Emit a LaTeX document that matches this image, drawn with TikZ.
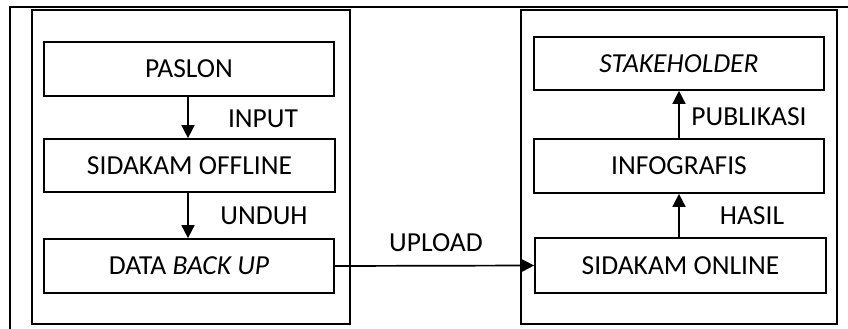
\documentclass[tikz,border=0pt]{standalone}
\usepackage{fontspec}
\setmainfont{Carlito}
\usetikzlibrary{arrows.meta}
\begin{document}
\begin{tikzpicture}[x=1pt,y=-1pt,
  box/.style={draw,line width=1.7pt,inner sep=0pt},
  frame/.style={draw,line width=1.7pt},
  lbl/.style={font=\fontsize{27.5}{31}\selectfont,inner sep=0pt},
  arr/.style={line width=1.7pt,-{Triangle[length=13pt,width=13pt]}}]
\useasboundingbox (0,0) rectangle (848,329);
% outer frame
\draw[line width=2.2pt] (10,329) -- (10,7) -- (848,7);
% inner group boxes
\draw[frame] (32,10) rectangle (350,324);
\draw[frame] (521,10) rectangle (837,324);
% left column
\node[box,minimum width=290pt,minimum height=54pt,lbl] (paslon) at (189,69) {PASLON};
\node[box,minimum width=291pt,minimum height=53pt,lbl] (offline) at (189.5,165.5) {SIDAKAM OFFLINE};
\node[box,minimum width=290pt,minimum height=54pt,lbl] (backup) at (189,266) {DATA \textit{BACK UP}};
% right column
\node[box,minimum width=290pt,minimum height=53pt,lbl] (stake) at (679,63.5) {\textit{STAKEHOLDER}};
\node[box,minimum width=290pt,minimum height=54pt,lbl] (info) at (679,166) {INFOGRAFIS};
\node[box,minimum width=291pt,minimum height=55pt,lbl] (online) at (680.5,265.5) {SIDAKAM ONLINE};
% connectors
\draw[arr] (paslon.south -| 188,0) -- (offline.north -| 188,0);
\draw[arr] (offline.south -| 188,0) -- (backup.north -| 188,0);
\draw[arr] (online.north -| 679,0) -- (info.south -| 679,0);
\draw[arr] (info.north -| 679,0) -- (stake.south -| 679,0);
\draw[arr] (backup.east) -- (online.west);
% labels
\node[lbl] (input) at (263,119) {INPUT};
\node[lbl] (unduh) at (264,216) {UNDUH};
\node[lbl] (publikasi) at (749,117) {PUBLIKASI};
\node[lbl] (hasil) at (752,216) {HASIL};
\node[lbl] (upload) at (436,243) {UPLOAD};
\end{tikzpicture}
\end{document}
